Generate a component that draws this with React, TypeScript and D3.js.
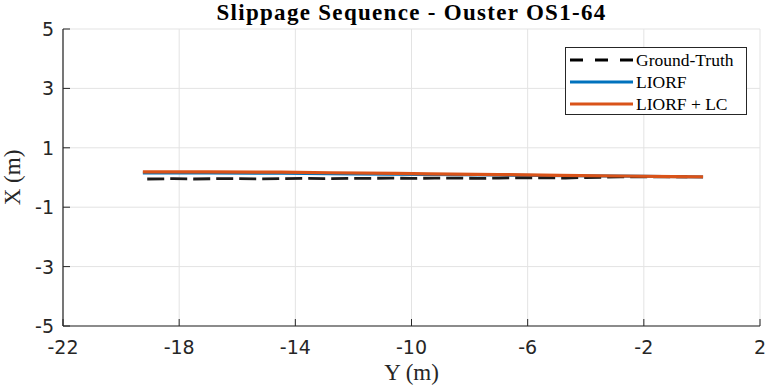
import React from "react";
import * as d3 from "d3";

const xTicks = [-22, -18, -14, -10, -6, -2, 2];
const yTicks = [-5, -3, -1, 1, 3, 5];

const gtY = [-19.1, -18.2, -17.5, -16.7, -16.0, -15.2, -14.5, -13.7, -13.0, -12.2, -11.5, -10.7, -10.0, -9.2, -8.5, -7.7, -7.0, -6.2, -5.5, -4.7, -4.0, -2.8, -1.5, -0.5];
const gtX = [-0.05, -0.04, -0.05, -0.04, -0.04, -0.05, -0.04, -0.03, -0.04, -0.03, -0.03, -0.02, -0.03, -0.02, -0.02, -0.03, -0.02, -0.01, -0.01, -0.02, 0.0, 0.02, 0.02, 0.02];

const liorfY = [-19.25, -17.0, -14.5, -12.0, -9.5, -7.0, -4.5, -2.0, 0.04];
const liorfX = [0.15, 0.15, 0.14, 0.12, 0.1, 0.08, 0.06, 0.04, 0.02];

const lcY = [-19.25, -17.0, -14.5, -12.8, -10.5, -9.4, -7.0, -4.9, -2.8, -1.0, 0.04];
const lcX = [0.19, 0.19, 0.18, 0.16, 0.14, 0.12, 0.1, 0.07, 0.05, 0.03, 0.02];

const legendLabels = ["Ground-Truth", "LIORF", "LIORF + LC"];

const W = 768, H = 389;
const L = 63, R = 760, T = 29, B = 326;

export default function App() {
  const x = d3.scaleLinear().domain([-22, 2]).range([L, R]);
  const y = d3.scaleLinear().domain([-5, 5]).range([B, T]);
  const line = (ys: number[], xs: number[]) =>
    d3.line<number>().x((d) => x(d)).y((_, i) => y(xs[i]))(ys) || "";
  const serif = "'Liberation Serif', 'DejaVu Serif', serif";
  const sans = "'DejaVu Sans', sans-serif";
  const legendColors = ["#000", "#0072BD", "#D95319"];
  return (
    <svg width={W} height={H} style={{ position: "absolute", left: 0, top: 0, background: "#fff" }}>
      <rect x={0} y={0} width={W} height={H} fill="#fff" />
      {xTicks.map((t) => (
        <line key={"gx" + t} x1={x(t)} x2={x(t)} y1={T} y2={B} stroke="#e3e3e3" strokeWidth={1} />
      ))}
      {yTicks.map((t) => (
        <line key={"gy" + t} x1={L} x2={R} y1={y(t)} y2={y(t)} stroke="#e3e3e3" strokeWidth={1} />
      ))}
      <path d={line(liorfY, liorfX)} fill="none" stroke="#0072BD" strokeWidth={3} />
      <path d={line(gtY, gtX)} fill="none" stroke="#1a1a1a" strokeWidth={2.8} strokeDasharray="17,6" />
      <path d={line(lcY, lcX)} fill="none" stroke="#D95319" strokeWidth={3.2} />
      <line x1={L} x2={R} y1={B} y2={B} stroke="#262626" strokeWidth={1.2} />
      <line x1={L} x2={L} y1={T} y2={B} stroke="#262626" strokeWidth={1.2} />
      {xTicks.map((t) => (
        <g key={"tx" + t}>
          <line x1={x(t)} x2={x(t)} y1={B} y2={B - 7} stroke="#262626" strokeWidth={1} />
          <text x={x(t)} y={B + 28} textAnchor="middle" fontFamily={sans} fontSize={19} fill="#262626">{t}</text>
        </g>
      ))}
      {yTicks.map((t) => (
        <g key={"ty" + t}>
          <line x1={L} x2={L + 7} y1={y(t)} y2={y(t)} stroke="#262626" strokeWidth={1} />
          <text x={L - 9} y={y(t) + 7} textAnchor="end" fontFamily={sans} fontSize={19} fill="#262626">{t}</text>
        </g>
      ))}
      <text x={(L + R) / 2} y={20} textAnchor="middle" fontFamily={serif} fontWeight="bold" fontSize={23} letterSpacing={1.3} fill="#000">
        Slippage Sequence - Ouster OS1-64
      </text>
      <text x={(L + R) / 2} y={380} textAnchor="middle" fontFamily={serif} fontSize={23} fill="#262626">Y (m)</text>
      <text transform={`translate(20,${(T + B) / 2}) rotate(-90)`} textAnchor="middle" fontFamily={serif} fontSize={23} fill="#262626">X (m)</text>
      <rect x={565.5} y={47.5} width={181} height={67} fill="#fff" stroke="#262626" strokeWidth={1} />
      {legendLabels.map((lab, i) => (
        <g key={lab}>
          <line x1={570} x2={633} y1={60 + i * 22} y2={60 + i * 22} stroke={legendColors[i]} strokeWidth={3}
            strokeDasharray={i === 0 ? "13,12" : undefined} />
          <text x={636} y={66 + i * 22} fontFamily={serif} fontSize={17.5} fill="#000">{lab}</text>
        </g>
      ))}
    </svg>
  );
}
